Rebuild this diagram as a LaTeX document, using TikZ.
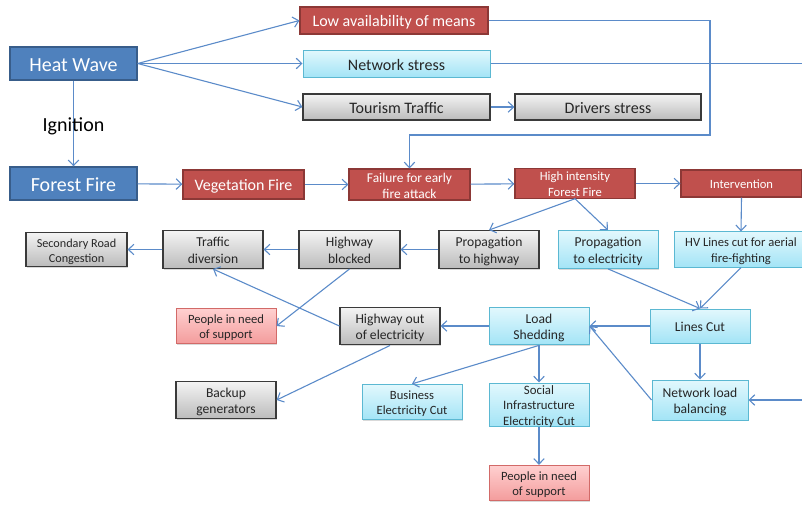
\documentclass[tikz,border=0pt]{standalone}
\usepackage{fontspec}
\setmainfont{Carlito}
\usetikzlibrary{arrows.meta,shadows}

\definecolor{hzBlue}{HTML}{4F81BD}
\definecolor{hzBlueLine}{HTML}{385D8A}
\definecolor{hzRed}{HTML}{C0504D}
\definecolor{hzRedLine}{HTML}{8C3836}
\definecolor{cyTop}{HTML}{E2F8FD}
\definecolor{cyBot}{HTML}{A3E4F6}
\definecolor{cyLine}{HTML}{5BB8D2}
\definecolor{grTop}{HTML}{F4F4F4}
\definecolor{grBot}{HTML}{BBBBBB}
\definecolor{grLine}{HTML}{3A3A3A}
\definecolor{pkTop}{HTML}{FFD0D0}
\definecolor{pkBot}{HTML}{F39C9C}
\definecolor{pkLine}{HTML}{D26A68}
\definecolor{link}{HTML}{5B8BC9}

% stacked lines of a box label; the strut-like rule lowers the block slightly
\newcommand{\stack}[1]{\begin{tabular}{@{}c@{}}\rule{0pt}{1.2em}#1\end{tabular}}

\tikzset{
  box/.style={rectangle, inner sep=0pt, align=center,
    drop shadow={shadow xshift=1pt, shadow yshift=-1.2pt, opacity=0.3}},
  one/.style={execute at begin node={\rule{0pt}{0.86em}}},
  onebig/.style={execute at begin node={\rule{0pt}{0.8em}}},
  hazard/.style={box, fill=hzBlue, draw=hzBlueLine, line width=1.4pt, text=white},
  fire/.style={box, fill=hzRed, draw=hzRedLine, line width=1.2pt, text=white},
  power/.style={box, top color=cyTop, bottom color=cyBot, draw=cyLine, line width=1pt, text=black!85},
  road/.style={box, top color=grTop, bottom color=grBot, draw=grLine, line width=1.2pt, text=black!85},
  people/.style={box, top color=pkTop, bottom color=pkBot, draw=pkLine, line width=1pt, text=black!85},
  big/.style={font=\fontsize{20}{24}\selectfont},
  mid/.style={font=\fontsize{16}{19}\selectfont},
  sml/.style={font=\fontsize{13.6}{16.5}\selectfont},
  tiny/.style={font=\fontsize{12.6}{15.5}\selectfont},
  link/.style={draw=link, line width=1.1pt, -{Straight Barb[length=5.5pt,width=10.5pt]}},
  plain/.style={draw=link, line width=1.1pt},
}

\begin{document}
\begin{tikzpicture}[x=1pt,y=-1pt]
\useasboundingbox (0,0) rectangle (802,506);
\clip (0,0) rectangle (802,506);

% hazards
\node[hazard, big, onebig, minimum width=127pt, minimum height=33pt] (hw) at (73.5,63.5) {Heat Wave};
\node[hazard, big, onebig, minimum width=127pt, minimum height=33pt] (ff) at (73.5,183.5) {Forest Fire};

% heat wave consequences
\node[fire, mid, one, minimum width=188pt, minimum height=27pt] (low) at (394,20.5) {Low availability of means};
\node[power, mid, one, minimum width=187pt, minimum height=27pt] (net) at (396.5,63.5) {Network stress};
\node[road, mid, one, minimum width=187pt, minimum height=26pt] (tour) at (396.5,107) {Tourism Traffic};
\node[road, mid, one, minimum width=186pt, minimum height=26pt] (drv) at (608,107) {Drivers stress};

% fire chain
\node[fire, mid, one, minimum width=121pt, minimum height=29pt] (veg) at (243.5,184.5) {Vegetation Fire};
\node[fire, font=\fontsize{13.4}{16}\selectfont, minimum width=121pt, minimum height=29pt, inner ysep=-3pt] (fail) at (409.5,184.5) {\stack{Failure for early\\fire attack}};
\node[fire, tiny, minimum width=120pt, minimum height=27pt, inner ysep=-3pt] (high) at (575,183.5) {\stack{High intensity\\Forest Fire}};
\node[fire, tiny, one, minimum width=121pt, minimum height=27pt] (interv) at (741.5,183.5) {Intervention};

% second row
\node[road, font=\fontsize{12.2}{15}\selectfont, minimum width=101pt, minimum height=33pt] (sec) at (76.5,249.5) {\stack{Secondary Road\\Congestion}};
\node[road, sml, minimum width=100pt, minimum height=33pt] (tdiv) at (213,249.5) {\stack{Traffic\\diversion}};
\node[road, sml, minimum width=101pt, minimum height=33pt] (hblk) at (349.5,249.5) {\stack{Highway\\blocked}};
\node[road, sml, minimum width=100pt, minimum height=33pt] (phw) at (489,249.5) {\stack{Propagation\\to highway}};
\node[power, sml, minimum width=100pt, minimum height=33pt] (pel) at (608,249.5) {\stack{Propagation\\to electricity}};
\node[power, tiny, minimum width=134pt, minimum height=33pt] (hv) at (741,249.5) {\stack{HV Lines cut for aerial\\fire-fighting}};

% third row
\node[people, tiny, minimum width=100pt, minimum height=34pt] (pl) at (226,326) {\stack{People in need\\of support}};
\node[road, sml, minimum width=100pt, minimum height=34pt] (hoe) at (390,326) {\stack{Highway out\\of electricity}};
\node[power, sml, minimum width=100pt, minimum height=34pt] (ls) at (539,326) {\stack{Load\\Shedding}};
\node[power, sml, one, minimum width=100pt, minimum height=34pt] (lc) at (700,326) {Lines Cut};

% fourth row
\node[road, sml, minimum width=100pt, minimum height=34pt] (bg) at (226,400) {\stack{Backup\\generators}};
\node[power, tiny, minimum width=100pt, minimum height=34pt] (bec) at (412,402) {\stack{Business\\Electricity Cut}};
\node[power, font=\fontsize{12.8}{15.5}\selectfont, minimum width=100pt, minimum height=43pt, inner ysep=-4pt] (sie) at (539,404.5) {\stack{Social\\Infrastructure\\Electricity Cut}};
\node[power, sml, minimum width=96pt, minimum height=40pt] (nlb) at (700,400) {\stack{Network load\\balancing}};
\node[people, tiny, minimum width=100pt, minimum height=34pt] (pb) at (539,483) {\stack{People in need\\of support}};

% free ends and bends
\coordinate (bend) at (710,135);
\coordinate (netEnd) at (802,63.5);
\coordinate (nlbIn) at (802,400);

% heat wave links
\draw[link] (hw.east) -- (low.west);
\draw[link] (hw.east) -- (net.west);
\draw[link] (hw.east) -- (tour.west);
\draw[link] (tour) -- (drv);
\draw[link] (hw) -- node[midway, yshift=-2.5pt, font=\fontsize{20}{24}\selectfont, text=black] (ign) {Ignition} (ff);
\draw[link] (low.east) -| (bend) -| (fail.north);
\draw[plain] (net.east) -- (netEnd);

% fire chain links
\draw[link] (ff) -- (veg);
\draw[link] (veg) -- (fail);
\draw[link] (fail) -- (high);
\draw[link] (high) -- (interv);
\draw[link] (high.south) -- (phw.north);
\draw[link] (high.south) -- (pel.north);
\draw[link] (interv.south) -- (hv.north);

% road consequences
\draw[link] (phw) -- (hblk);
\draw[link] (hblk) -- (tdiv);
\draw[link] (tdiv) -- (sec);
\draw[link] (hblk.south) -- (pl.east);
\draw[link] (hoe.west) -- (tdiv.south);
\draw[link] (hoe.south) -- (bg.east);

% power consequences
\draw[link] (pel.south) -- (lc.north);
\draw[link] (hv.south) -- (lc.north);
\draw[link] (lc) -- (ls);
\draw[link] (lc) -- (nlb);
\draw[link] (nlb.west) -- (ls.east);
\draw[link] (nlbIn) -- (nlb.east);
\draw[link] (ls) -- (hoe);
\draw[link] (ls.south) -- (bec.north);
\draw[link] (ls) -- (sie);
\draw[link] (sie) -- (pb);
\end{tikzpicture}
\end{document}
